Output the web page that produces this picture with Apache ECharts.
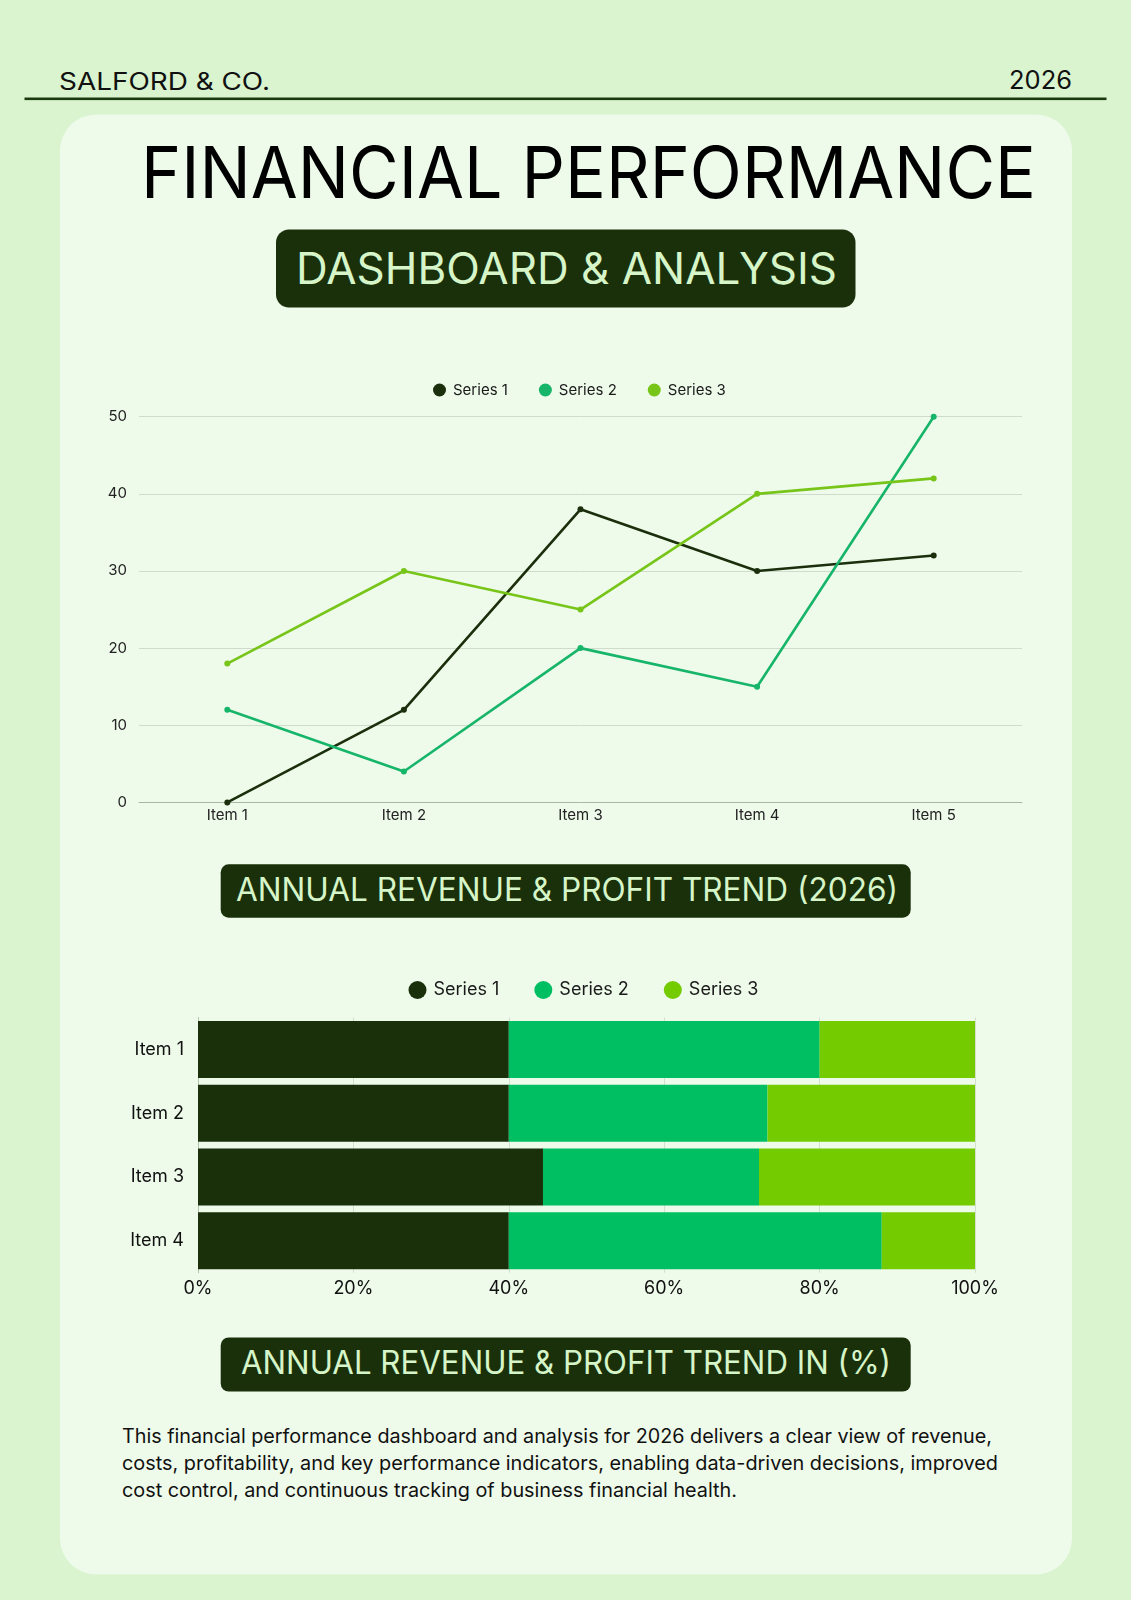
<!DOCTYPE html>
<html><head><meta charset="utf-8">
<script src="https://cdn.jsdelivr.net/npm/echarts@6/dist/echarts.min.js"></script>
<style>
html,body{margin:0;padding:0;background:#d9f4cf;}
#wrap{position:relative;width:1131px;height:1600px;overflow:hidden;}
svg{position:absolute;left:0;top:0;}
#chart{position:absolute;left:0;top:0;width:1131px;height:1600px;}
</style></head><body>
<div id="wrap">
<svg width="1131" height="1600" xmlns="http://www.w3.org/2000/svg" font-family="Inter, 'Noto Sans', sans-serif">
  <rect x="0" y="0" width="1131" height="1600" fill="#d9f4cf"/>
  <text x="59" y="90" font-size="24" fill="#111" textLength="211" lengthAdjust="spacingAndGlyphs">SALFORD &amp; CO.</text>
  <text x="1009" y="88.5" font-size="25" fill="#111" textLength="63" lengthAdjust="spacingAndGlyphs">2026</text>
  <rect x="24.5" y="97.5" width="1082" height="2.6" fill="#1c3a10"/>
  <rect x="60" y="114.5" width="1012" height="1460" rx="36" ry="36" fill="#eefaea"/>
  <text x="141" y="197.5" font-size="72" fill="#000" textLength="895" lengthAdjust="spacingAndGlyphs">FINANCIAL PERFORMANCE</text>
  <rect x="276" y="229.5" width="579.5" height="78" rx="13" ry="13" fill="#1a300b"/>
  <text x="296" y="284" font-size="44" fill="#d6f5c8" textLength="541" lengthAdjust="spacingAndGlyphs">DASHBOARD &amp; ANALYSIS</text>
  <rect x="220.7" y="864.3" width="690" height="53.4" rx="8" ry="8" fill="#1a300b"/>
  <text x="236" y="900.7" font-size="32" fill="#d6f5c8" textLength="662" lengthAdjust="spacingAndGlyphs">ANNUAL REVENUE &amp; PROFIT TREND (2026)</text>
  <rect x="220.7" y="1337.5" width="690" height="54" rx="8" ry="8" fill="#1a300b"/>
  <text x="241" y="1374.3" font-size="32" fill="#d6f5c8" textLength="650" lengthAdjust="spacingAndGlyphs">ANNUAL REVENUE &amp; PROFIT TREND IN (%)</text>
  <text x="122" y="1442.7" font-size="19.5" fill="#111" textLength="870" lengthAdjust="spacingAndGlyphs">This financial performance dashboard and analysis for 2026 delivers a clear view of revenue,</text>
  <text x="122" y="1469.8" font-size="19.5" fill="#111" textLength="876" lengthAdjust="spacingAndGlyphs">costs, profitability, and key performance indicators, enabling data-driven decisions, improved</text>
  <text x="122" y="1496.8" font-size="19.5" fill="#111" textLength="615" lengthAdjust="spacingAndGlyphs">cost control, and continuous tracking of business financial health.</text>
</svg>
<div id="chart"></div>
</div>
<script>
// ---- Line chart data ----
const lineCategories = ['Item 1', 'Item 2', 'Item 3', 'Item 4', 'Item 5'];
const lineSeries1 = [0, 12, 38, 30, 32];
const lineSeries2 = [12, 4, 20, 15, 50];
const lineSeries3 = [18, 30, 25, 40, 42];
const lineYTicks = [0, 10, 20, 30, 40, 50];

// ---- 100% stacked bar data (percent) ----
const barCategories = ['Item 1', 'Item 2', 'Item 3', 'Item 4'];
const barSeries1 = [40, 40, 44.4, 40];
const barSeries2 = [40, 33.3, 27.8, 48];
const barSeries3 = [20, 26.7, 27.8, 12];
const barXTicks = [0, 20, 40, 60, 80, 100];

const seriesNames = ['Series 1', 'Series 2', 'Series 3'];
const lineColors = ['#1b2f0c', '#17b56a', '#78c51a'];
const barColors = ['#19300b', '#00bf63', '#74cb00'];

const FONT = 'Inter, "Noto Sans", sans-serif';
const chart = echarts.init(document.getElementById('chart'), null, {renderer: 'canvas'});

const lineData = [lineSeries1, lineSeries2, lineSeries3];
const barData = [barSeries1, barSeries2, barSeries3];

const option = {
  backgroundColor: 'transparent',
  animation: false,
  textStyle: {fontFamily: FONT},
  legend: [
    {
      left: 428, top: 377.5, itemWidth: 13, itemHeight: 13, itemGap: 31, icon: 'circle',
      textStyle: {fontSize: 15, color: '#1a1a1a', fontFamily: FONT, padding: [0, 0, 0, 2]},
      data: seriesNames.map((n, i) => ({name: n, itemStyle: {color: lineColors[i]}}))
    },
    {
      left: 403.5, top: 976, itemWidth: 18, itemHeight: 18, itemGap: 35, icon: 'circle',
      textStyle: {fontSize: 18, color: '#1a1a1a', fontFamily: FONT, padding: [0, 0, 0, 2]},
      data: seriesNames.map((n, i) => ({name: n, itemStyle: {color: barColors[i]}}))
    }
  ],
  grid: [
    {left: 139, top: 416.7, width: 883, height: 385.7, containLabel: false},
    {left: 198, top: 1017.5, width: 777, height: 255.2, containLabel: false}
  ],
  xAxis: [
    {
      gridIndex: 0, type: 'category', data: lineCategories, boundaryGap: true,
      axisTick: {show: false},
      axisLine: {show: true, lineStyle: {color: '#a9b5a7', width: 1}},
      axisLabel: {fontSize: 15, color: '#222', margin: 6, fontFamily: FONT},
      splitLine: {show: false}
    },
    {
      gridIndex: 1, type: 'value', min: barXTicks[0], max: barXTicks[barXTicks.length - 1],
      interval: barXTicks[1] - barXTicks[0],
      axisTick: {show: false}, axisLine: {show: false},
      axisLabel: {fontSize: 18, color: '#111', margin: 7, fontFamily: FONT, formatter: '{value}%'},
      splitLine: {show: true, lineStyle: {color: '#d3e0cf', width: 1}}
    }
  ],
  yAxis: [
    {
      gridIndex: 0, type: 'value', min: lineYTicks[0], max: lineYTicks[lineYTicks.length - 1],
      interval: lineYTicks[1] - lineYTicks[0],
      axisLine: {show: false}, axisTick: {show: false},
      axisLabel: {fontSize: 15, color: '#222', margin: 12, fontFamily: FONT},
      splitLine: {show: true, lineStyle: {color: '#cfdccb', width: 1}}
    },
    {
      gridIndex: 1, type: 'category', data: barCategories, inverse: true,
      axisTick: {show: false},
      axisLine: {show: true, lineStyle: {color: '#b5c4b1', width: 1}},
      axisLabel: {fontSize: 18, color: '#111', margin: 14, fontFamily: FONT},
      splitLine: {show: false}
    }
  ],
  series: [
    ...lineData.map((d, i) => ({
      name: seriesNames[i], type: 'line', xAxisIndex: 0, yAxisIndex: 0, data: d,
      symbol: 'circle', symbolSize: 6, showSymbol: true,
      lineStyle: {color: lineColors[i], width: 2.6},
      itemStyle: {color: lineColors[i]},
      z: 3 + i
    })),
    ...barData.map((d, i) => ({
      name: seriesNames[i], type: 'bar', xAxisIndex: 1, yAxisIndex: 1, data: d,
      stack: 'total', barWidth: 57,
      itemStyle: {color: barColors[i]}
    }))
  ]
};
chart.setOption(option);
</script>
</body></html>
